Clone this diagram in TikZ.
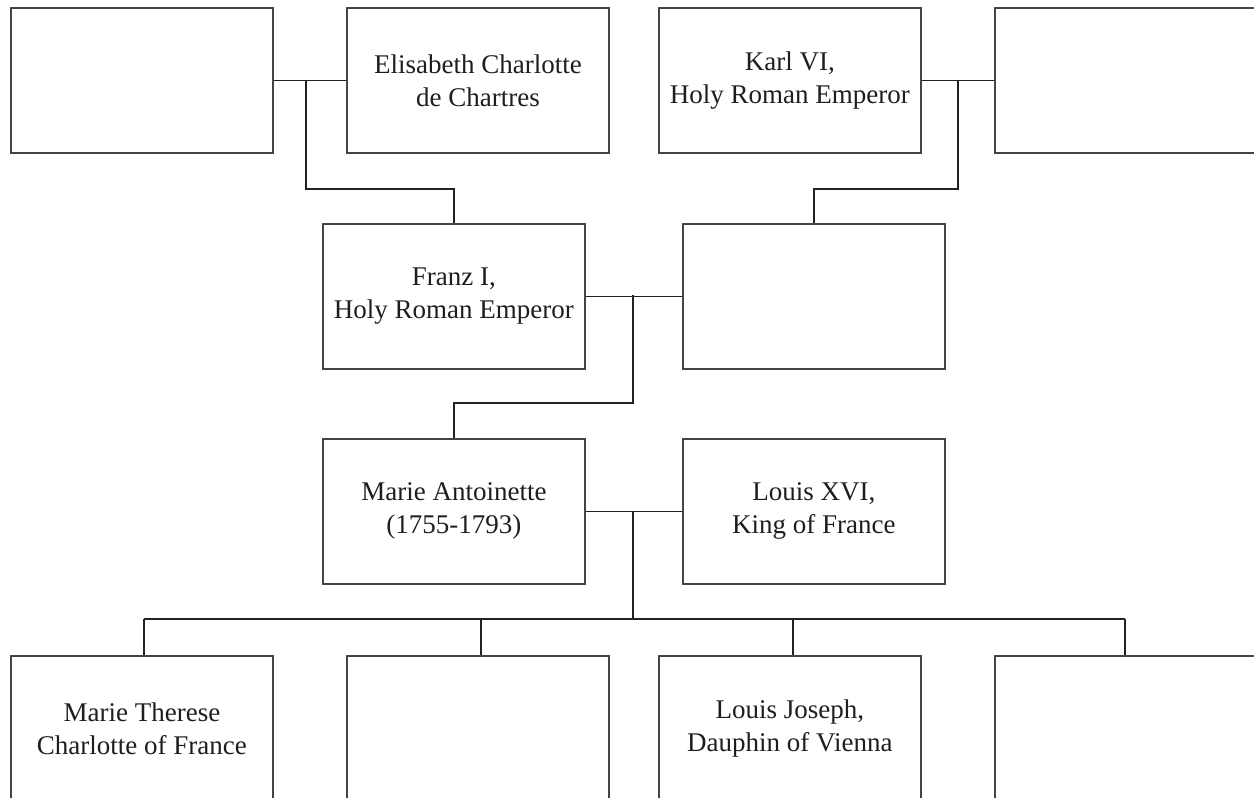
\documentclass[tikz,border=0pt]{standalone}
\usepackage{fontspec}
\setmainfont{Liberation Serif}
\definecolor{boxgray}{HTML}{444444}
\definecolor{linegray}{HTML}{222222}
\definecolor{textgray}{HTML}{1E1E1E}
\begin{document}
\begin{tikzpicture}[x=1pt,y=-1pt,
  person/.style={draw=boxgray, line width=1.8pt, minimum width=262pt, minimum height=145pt,
    inner sep=0pt, align=center, font=\fontsize{27}{33}\selectfont, text=textgray, anchor=north west},
  link/.style={draw=linegray, line width=1.8pt}]
\useasboundingbox (0,0) rectangle (1254,798);
\clip (0,0) rectangle (1254,798);
% row 1
\node[person] (a1) at (10,7) {};
\node[person] (b1) at (346,7) {Elisabeth Charlotte\\de Chartres};
\node[person] (c1) at (658,7) {Karl VI,\\Holy Roman Emperor};
\node[person] (d1) at (994,7) {};
% row 2
\node[person] (f) at (322,223) {Franz I,\\Holy Roman Emperor};
\node[person] (m) at (682,223) {};
% row 3
\node[person] (ma) at (322,438) {Marie Antoinette\\(1755-1793)};
\node[person] (l16) at (682,438) {Louis XVI,\\King of France};
% row 4
\node[person] (a4) at (10,655) {Marie Therese\\Charlotte of France};
\node[person] (b4) at (346,655) {};
\node[person] (c4) at (658,655) {Louis Joseph,\\Dauphin of Vienna};
\node[person] (d4) at (994,655) {};
% junction coordinates
\coordinate (j1) at (306,79.5);
\coordinate (k1) at (306,189);
\coordinate (j2) at (958,79.5);
\coordinate (k2) at (958,189);
\coordinate (j3) at (633,295);
\coordinate (k3) at (633,403);
\coordinate (j4) at (633,510.5);
\coordinate (k4) at (633,619);
\coordinate (t1) at (144,619);
\coordinate (t2) at (481,619);
\coordinate (t3) at (793,619);
\coordinate (t4) at (1125,619);
% connectors
\draw[link] (a1.east) -- (b1.west);
\draw[link] (j1) -- (k1) -| (f.north);
\draw[link] (c1.east) -- (d1.west);
\draw[link] (j2) -- (k2) -| (m.north);
\draw[link] (f.east) -- (m.west);
\draw[link] (j3) -- (k3) -| (ma.north);
\draw[link] (ma.east) -- (l16.west);
\draw[link] (j4) -- (k4);
\draw[link] (t1) -- (t4);
\draw[link] (t1) -- (t1 |- a4.north);
\draw[link] (t2) -- (t2 |- b4.north);
\draw[link] (t3) -- (t3 |- c4.north);
\draw[link] (t4) -- (t4 |- d4.north);
\end{tikzpicture}
\end{document}
